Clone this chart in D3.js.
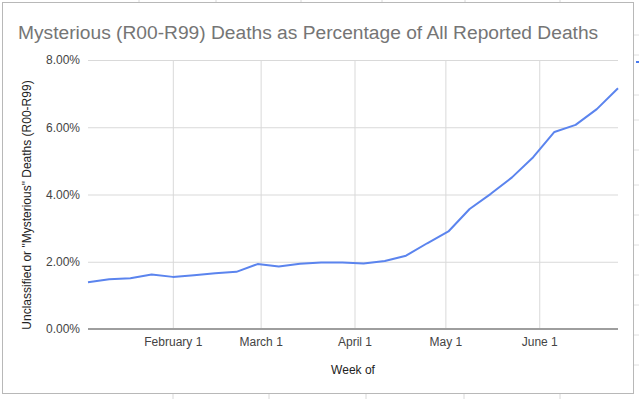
<!DOCTYPE html>
<html>
<head>
<meta charset="utf-8">
<script src="https://cdnjs.cloudflare.com/ajax/libs/d3/7.8.5/d3.min.js"></script>
<style>
  html, body { margin: 0; padding: 0; background: #fff; }
  svg { display: block; font-family: Arial, "Liberation Sans", sans-serif; }
</style>
</head>
<body>
<svg id="chart" width="639" height="399"></svg>
<script>
// week-ending dates (2020)
const weeks = [
  "2020-01-04", "2020-01-11", "2020-01-18", "2020-01-25",
  "2020-02-01", "2020-02-08", "2020-02-15", "2020-02-22", "2020-02-29",
  "2020-03-07", "2020-03-14", "2020-03-21", "2020-03-28",
  "2020-04-04", "2020-04-11", "2020-04-18", "2020-04-25",
  "2020-05-02", "2020-05-09", "2020-05-16", "2020-05-23", "2020-05-30",
  "2020-06-06", "2020-06-13", "2020-06-20", "2020-06-27"
];
// percent of all reported deaths
const pctMysterious = [
  1.39, 1.48, 1.51, 1.62,
  1.55, 1.60, 1.66, 1.70, 1.93,
  1.86, 1.94, 1.98, 1.98,
  1.95, 2.02, 2.18, 2.55,
  2.90, 3.57, 4.02, 4.51, 5.11,
  5.86, 6.07, 6.54, 7.16
];
const xTickDates = ["2020-02-01", "2020-03-01", "2020-04-01", "2020-05-01", "2020-06-01"];
const xTickLabels = ["February 1", "March 1", "April 1", "May 1", "June 1"];
const yTicks = [0, 2, 4, 6, 8];

const parse = d3.timeParse("%Y-%m-%d");
const data = weeks.map((w, i) => ({ date: parse(w), value: pctMysterious[i] }));

const svg = d3.select("#chart");
const W = 639, H = 399;

// spreadsheet behind the chart
const bg = svg.append("g");
bg.append("rect").attr("width", W).attr("height", H).attr("fill", "#fff");
[139, 216, 301, 382, 465, 560].forEach(xp => {
  bg.append("line").attr("x1", xp).attr("x2", xp).attr("y1", 0).attr("y2", 3)
    .attr("stroke", "#d8d8d8");
});
[173, 269, 366, 464, 560].forEach(xp => {
  bg.append("line").attr("x1", xp).attr("x2", xp).attr("y1", 394).attr("y2", H)
    .attr("stroke", "#d8d8d8");
});
[35, 55, 95, 120, 150, 185, 215, 245, 275, 305, 335, 365].forEach(yp => {
  bg.append("line").attr("x1", 634).attr("x2", W).attr("y1", yp).attr("y2", yp)
    .attr("stroke", "#e0e0e0");
});
bg.append("line").attr("x1", 636).attr("x2", W).attr("y1", 62).attr("y2", 62)
  .attr("stroke", "#4a7bf0").attr("stroke-width", 2);

// chart card
svg.append("rect")
  .attr("x", 2.5).attr("y", 2.5).attr("width", 631).attr("height", 391)
  .attr("fill", "#fff").attr("stroke", "#b8b8b8");

const plotL = 88, plotR = 618, plotT = 60, plotB = 329;

const x = d3.scaleTime()
  .domain(d3.extent(data, d => d.date))
  .range([plotL, plotR]);
const y = d3.scaleLinear()
  .domain([0, 8])
  .range([plotB, plotT]);

// title
svg.append("text")
  .attr("x", 18).attr("y", 39)
  .attr("fill", "#757575")
  .style("font-size", "19.2px")
  .text("Mysterious (R00-R99) Deaths as Percentage of All Reported Deaths");

// horizontal grid + y labels
const yAxis = d3.axisLeft(y)
  .tickValues(yTicks)
  .tickSize(-(plotR - plotL))
  .tickPadding(8)
  .tickFormat(d => d3.format(".2f")(d) + "%");
const gy = svg.append("g").attr("transform", `translate(${plotL},0)`).call(yAxis);
gy.select(".domain").remove();
gy.selectAll(".tick line").attr("stroke", "#d9d9d9");
gy.selectAll(".tick text").attr("fill", "#444").style("font-size", "12px");

// vertical grid + x labels
const xAxis = d3.axisBottom(x)
  .tickValues(xTickDates.map(parse))
  .tickSize(-(plotB - plotT))
  .tickPadding(8)
  .tickFormat((d, i) => xTickLabels[i]);
const gx = svg.append("g").attr("transform", `translate(0,${plotB})`).call(xAxis);
gx.select(".domain").remove();
gx.selectAll(".tick line").attr("stroke", "#d9d9d9");
gx.selectAll(".tick text").attr("fill", "#444").style("font-size", "12px");

// baseline
svg.append("line")
  .attr("x1", plotL).attr("x2", plotR)
  .attr("y1", y(0)).attr("y2", y(0))
  .attr("stroke", "#9e9e9e").attr("stroke-width", 2);

// series
svg.append("path")
  .datum(data)
  .attr("fill", "none")
  .attr("stroke", "#5b84ee")
  .attr("stroke-width", 2)
  .attr("stroke-linejoin", "round")
  .attr("d", d3.line().x(d => x(d.date)).y(d => y(d.value)));

// axis titles
svg.append("text")
  .attr("x", (plotL + plotR) / 2).attr("y", 374)
  .attr("text-anchor", "middle")
  .attr("fill", "#222")
  .style("font-size", "12px")
  .text("Week of");

svg.append("text")
  .attr("transform", "translate(31,205) rotate(-90)")
  .attr("text-anchor", "middle")
  .attr("fill", "#222")
  .style("font-size", "12px")
  .text("Unclassified or \"Mysterious\" Deaths (R00-R99)");
</script>
</body>
</html>
